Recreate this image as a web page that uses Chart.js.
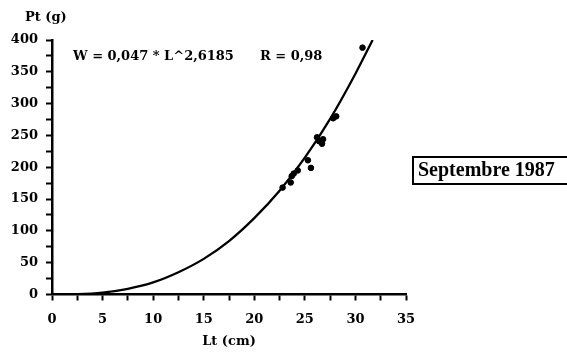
<!DOCTYPE html>
<html>
<head>
<meta charset="utf-8">
<script src="https://cdn.jsdelivr.net/npm/chart.js@4.4.1/dist/chart.umd.min.js"></script>
<style>
  html, body { margin: 0; padding: 0; background: #fff; }
  #wrap { width: 567px; height: 353px; }
</style>
</head>
<body>
<div id="wrap"><canvas id="chartPoids" width="567" height="353"></canvas></div>
<script>
const longueurs = [22.8, 23.6, 23.7, 23.9, 24.3, 25.3, 25.6, 26.2, 26.4, 26.7, 26.8, 27.8, 28.1, 30.7];
const poids     = [168, 176, 186, 190, 195, 211, 199, 247, 241, 237, 244, 277, 280, 388];

// courbe d'ajustement W = 0,047 * L^2,6185
const courbeLt = [0, 2.5, 5, 7.5, 10, 12.5, 15, 17.5, 20, 22.5, 25, 27.5, 30, 31.7];
const courbePt = [0, 0.5, 3, 9, 19, 35, 56, 84, 120, 163, 215, 276, 347, 400];

const xTicks = [0, 5, 10, 15, 20, 25, 30, 35];
const yTicks = [0, 50, 100, 150, 200, 250, 300, 350, 400];

const equation = 'W = 0,047 * L^2,6185';
const coefR = 'R = 0,98';
const legende = 'Septembre 1987';

const police = '"DejaVu Serif", "Liberation Serif", serif';

const textes = {
    id: 'textes',
    afterDraw(chart) {
        const ctx = chart.ctx;
        ctx.save();
        ctx.fillStyle = '#000';
        ctx.textBaseline = 'middle';
        ctx.textAlign = 'left';

        ctx.font = 'bold 13px ' + police;
        ctx.fillText('Pt (g)', 25, 18);

        ctx.fillText(equation, 73, 57);
        ctx.fillText(coefR, 260, 57);

        // encadré Septembre 1987
        ctx.font = 'bold 20px "Liberation Serif", serif';
        ctx.strokeStyle = '#000';
        ctx.lineWidth = 2;
        ctx.strokeRect(413, 157, 170, 27);
        ctx.fillText(legende, 418, 171);
        ctx.restore();
    }
};

new Chart(document.getElementById('chartPoids'), {
    type: 'scatter',
    data: {
        datasets: [
            {
                data: longueurs.map((l, i) => ({ x: l, y: poids[i] })),
                backgroundColor: '#000',
                borderColor: '#000',
                pointStyle: 'circle',
                pointRadius: 2.8,
                order: 1
            },
            {
                data: courbeLt.map((l, i) => ({ x: l, y: courbePt[i] })),
                showLine: true,
                borderColor: '#000',
                borderWidth: 2.3,
                pointRadius: 0,
                cubicInterpolationMode: 'monotone',
                order: 2
            }
        ]
    },
    options: {
        responsive: false,
        animation: false,
        devicePixelRatio: 1,
        layout: { padding: { top: 40, right: 161, left: 0, bottom: 0 } },
        plugins: {
            legend: { display: false },
            tooltip: { enabled: false }
        },
        scales: {
            x: {
                type: 'linear',
                min: 0,
                max: 35,
                afterFit(s) { s.height = 58.5; },
                afterBuildTicks(s) {
                    const t = [];
                    for (let v = 0; v <= 35; v += 2.5) t.push({ value: v });
                    s.ticks = t;
                },
                grid: {
                    drawOnChartArea: false,
                    drawTicks: true,
                    tickLength: 6,
                    tickColor: '#000',
                    tickWidth: 2
                },
                border: { display: true, color: '#000', width: 2.5 },
                ticks: {
                    autoSkip: false,
                    maxRotation: 0,
                    padding: 11,
                    color: '#000',
                    font: { family: police, size: 13, weight: 'bold' },
                    callback: v => xTicks.includes(v) ? v : ''
                },
                title: {
                    display: true,
                    text: 'Lt (cm)',
                    color: '#000',
                    font: { family: police, size: 13, weight: 'bold' },
                    padding: { top: 0, bottom: 4 }
                }
            },
            y: {
                min: 0,
                max: 400,
                afterFit(s) { s.width = 52; },
                afterBuildTicks(s) {
                    const t = [];
                    for (let v = 0; v <= 400; v += 25) t.push({ value: v });
                    s.ticks = t;
                },
                grid: {
                    drawOnChartArea: false,
                    drawTicks: true,
                    tickLength: 6,
                    tickColor: '#000',
                    tickWidth: 2
                },
                border: { display: true, color: '#000', width: 2.5 },
                ticks: {
                    autoSkip: false,
                    padding: 8,
                    color: '#000',
                    font: { family: police, size: 13, weight: 'bold' },
                    callback: v => yTicks.includes(v) ? v : ''
                }
            }
        }
    },
    plugins: [textes]
});
</script>
</body>
</html>
